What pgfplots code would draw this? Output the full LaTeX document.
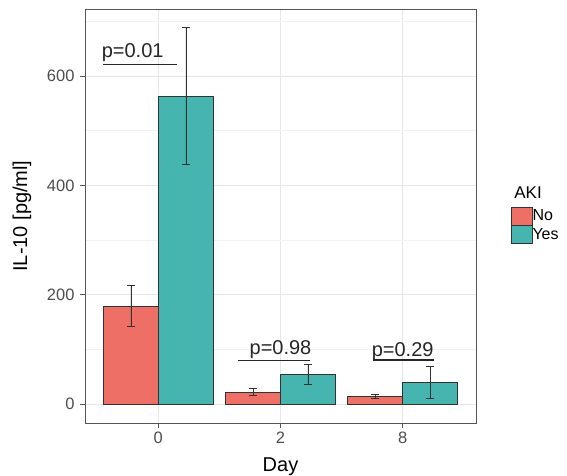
\documentclass[border=0pt]{standalone}
\usepackage{fontspec}
\setmainfont{Liberation Sans}
\usepackage{pgfplots}
\pgfplotsset{compat=1.18}
\definecolor{nored}{HTML}{EE6F66}
\definecolor{yesteal}{HTML}{47B5AF}
\definecolor{gridmaj}{HTML}{E6E6E6}
\definecolor{gridmin}{HTML}{F2F2F2}
\definecolor{tickgrey}{HTML}{4D4D4D}
\definecolor{bordergrey}{HTML}{555555}
\begin{document}
\begin{tikzpicture}
\begin{axis}[
  at={(85pt,52pt)}, anchor=south west,
  scale only axis, width=391pt, height=414pt,
  clip=false,
  xmin=0.4, xmax=3.6, ymin=-34.4, ymax=722.6,
  xtick={1,2,3}, xticklabels={0,2,8},
  ytick={0,200,400,600},
  minor ytick={100,300,500,700},
  grid=both,
  major grid style={gridmaj, line width=0.8pt},
  minor grid style={gridmin, line width=0.5pt},
  axis line style={bordergrey, line width=0.9pt},
  tick style={bordergrey, line width=0.8pt},
  major tick length=5pt, minor tick length=0pt,
  tick align=outside, tick pos=left,
  ticklabel style={font=\fontsize{16.5}{16.5}\selectfont, text=tickgrey},
  yticklabel style={xshift=-2pt},
  /pgf/number format/assume math mode=true,
  xlabel={Day}, ylabel={IL-10 [pg/ml]},
  xlabel style={font=\fontsize{20}{20}\selectfont, at={(axis description cs:0.5,-0.116)}, anchor=base},
  ylabel style={font=\fontsize{20}{20}\selectfont, at={(axis description cs:-0.161,0.5)}, anchor=center},
  legend image code/.code={\draw[#1] (0pt,-9pt) rectangle (21pt,9pt);},
  legend style={draw=none, fill=none, at={(axis description cs:1.089,0.5225)}, anchor=north west,
    font=\fontsize{16}{16}\selectfont, row sep=0pt, inner sep=0pt, nodes={inner sep=0pt},
    /tikz/every even column/.append style={column sep=4pt}},
  legend cell align=left,
]
\addlegendimage{fill=nored, draw=black!80, line width=0.5pt}
\addlegendentry{No}
\addlegendimage{fill=yesteal, draw=black!80, line width=0.5pt}
\addlegendentry{Yes}

% AKI = No (bars at category - 0.225)
\addplot[ybar, bar width=0.45, bar shift=0pt, fill=nored, draw=black!80, line width=0.5pt, forget plot,
  error bars/.cd, y dir=both, y explicit,
  error bar style={black!80, line width=0.6pt},
  error mark options={black!80, line width=0.6pt, mark size=4pt, rotate=90}]
coordinates {(0.775,179) += (0,38) -= (0,36) (1.775,22) += (0,7) -= (0,5) (2.775,14) += (0,4) -= (0,4)};

% AKI = Yes (bars at category + 0.225)
\addplot[ybar, bar width=0.45, bar shift=0pt, fill=yesteal, draw=black!80, line width=0.5pt, forget plot,
  error bars/.cd, y dir=both, y explicit,
  error bar style={black!80, line width=0.6pt},
  error mark options={black!80, line width=0.6pt, mark size=4pt, rotate=90}]
coordinates {(1.225,563) += (0,126) -= (0,124) (2.225,54) += (0,19) -= (0,17) (3.225,40) += (0,30) -= (0,30)};

\draw[black!85, line width=1.8pt] (axis cs:0.547,621) -- (axis cs:1.153,621);
\draw[black!85, line width=1.8pt] (axis cs:1.653,80) -- (axis cs:2.24,80);
\draw[black!85, line width=1.8pt] (axis cs:2.76,81) -- (axis cs:3.26,81);
\node[anchor=base, font=\fontsize{20}{20}\selectfont, text=black!85] at (axis cs:0.79,634) {p=0.01};
\node[anchor=base, font=\fontsize{20}{20}\selectfont, text=black!85] at (axis cs:2.0,91) {p=0.98};
\node[anchor=base, font=\fontsize{20}{20}\selectfont, text=black!85] at (axis cs:3.0,88) {p=0.29};
\node[anchor=base west, font=\fontsize{17}{17}\selectfont] at (axis description cs:1.089,0.5428) {AKI};
\end{axis}
\pgfresetboundingbox
\path (0,0) rectangle (567pt,475pt);
\end{tikzpicture}
\end{document}
